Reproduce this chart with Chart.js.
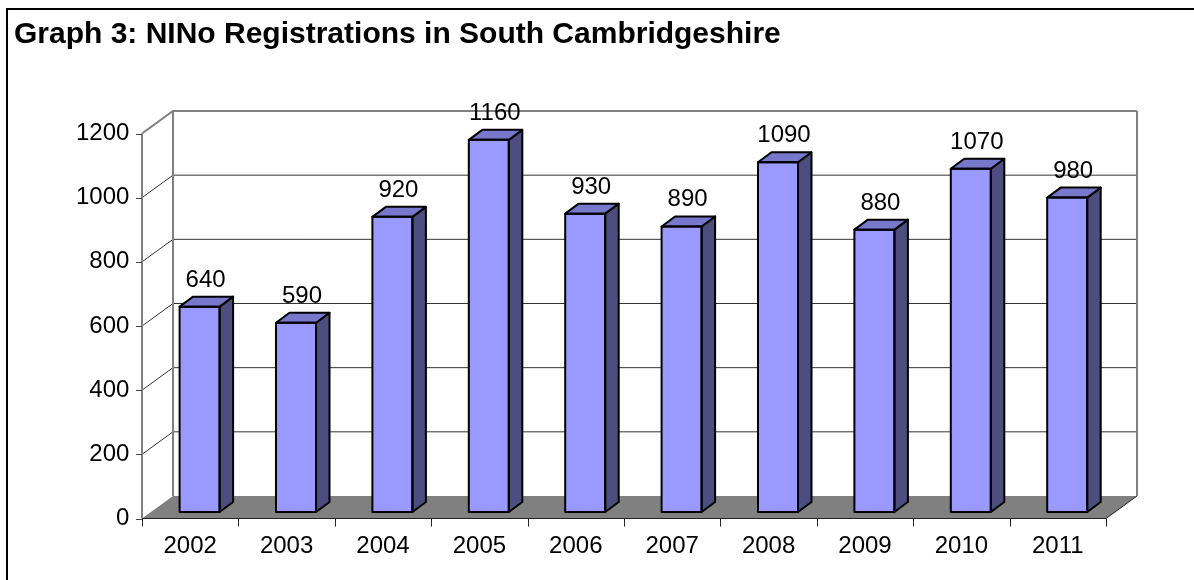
<!DOCTYPE html>
<html>
<head>
<meta charset="utf-8">
<script src="https://cdn.jsdelivr.net/npm/chart.js@4"></script>
<style>
  html, body { margin: 0; padding: 0; background: #fff; overflow: hidden; }
  #wrap { position: relative; width: 1194px; height: 580px; }
  #frame { position: absolute; left: 6px; top: 8px; width: 1300px; height: 700px; border: 2px solid #000; box-sizing: border-box; }
  canvas { position: absolute; left: 0; top: 0; }
</style>
</head>
<body>
<div id="wrap">
  <div id="frame"></div>
  <canvas id="chart" width="1194" height="580"></canvas>
</div>
<script>
// Datos del gráfico
const years = ['2002', '2003', '2004', '2005', '2006', '2007', '2008', '2009', '2010', '2011'];
const registrations = [640, 590, 920, 1160, 930, 890, 1090, 880, 1070, 980];
const yTicks = [0, 200, 400, 600, 800, 1000, 1200];

// Profundidad del efecto 3D (plano de barras -> frente / fondo)
const FRONT = { dx: -9.4, dy: 6.5 };
const BACK = { dx: 21.6, dy: -16 };
const BAR_DEPTH = { dx: 13.5, dy: -10 };

const FONT = 'Arial, "Liberation Sans", sans-serif';
const LABEL_SIZE = 24;

// Plugin para paredes, suelo y caras laterales de las barras
const box3d = {
    id: 'box3d',
    beforeDatasetsDraw(chart) {
        const { ctx, chartArea, scales } = chart;
        const y = scales.y;
        const fl = chartArea.left + FRONT.dx, fr = chartArea.right + FRONT.dx;
        const bl = chartArea.left + BACK.dx, br = chartArea.right + BACK.dx;
        const y0 = y.getPixelForValue(0);
        const yTop = y.getPixelForValue(yTicks[yTicks.length - 1]);

        ctx.save();
        // Suelo gris
        ctx.fillStyle = '#808080';
        ctx.beginPath();
        ctx.moveTo(fl, y0 + FRONT.dy);
        ctx.lineTo(fr, y0 + FRONT.dy);
        ctx.lineTo(br, y0 + BACK.dy);
        ctx.lineTo(bl, y0 + BACK.dy);
        ctx.closePath();
        ctx.fill();
        ctx.strokeStyle = '#222';
        ctx.lineWidth = 1;
        ctx.beginPath();
        ctx.moveTo(fl, y0 + FRONT.dy);
        ctx.lineTo(fr, y0 + FRONT.dy);
        ctx.lineTo(br, y0 + BACK.dy);
        ctx.stroke();

        // Líneas de cuadrícula (pared trasera y lateral)
        yTicks.forEach(v => {
            if (v === 0) return;
            const p = y.getPixelForValue(v);
            const last = v === yTicks[yTicks.length - 1];
            ctx.strokeStyle = last ? '#808080' : '#333';
            ctx.lineWidth = last ? 2 : 1;
            ctx.beginPath();
            ctx.moveTo(fl, p + FRONT.dy);
            ctx.lineTo(bl, p + BACK.dy);
            ctx.lineTo(br, p + BACK.dy);
            ctx.stroke();
        });

        // Bordes de la pared trasera
        ctx.strokeStyle = '#808080';
        ctx.lineWidth = 2;
        ctx.beginPath();
        ctx.moveTo(bl, y0 + BACK.dy);
        ctx.lineTo(bl, yTop + BACK.dy);
        ctx.moveTo(br, yTop + BACK.dy);
        ctx.lineTo(br, y0 + BACK.dy);
        ctx.stroke();

        // Eje vertical frontal
        ctx.beginPath();
        ctx.moveTo(fl, y0 + FRONT.dy);
        ctx.lineTo(fl, yTop + FRONT.dy);
        ctx.stroke();
        ctx.lineWidth = 1;
        ctx.strokeStyle = '#444';
        yTicks.forEach(v => {
            const p = Math.round(y.getPixelForValue(v) + FRONT.dy) + 0.5;
            ctx.beginPath();
            ctx.moveTo(fl - 6, p);
            ctx.lineTo(fl, p);
            ctx.stroke();
        });

        // Marcas del eje horizontal
        const step = (chartArea.right - chartArea.left) / years.length;
        ctx.strokeStyle = '#222';
        for (let i = 0; i <= years.length; i++) {
            const x = Math.round(fl + i * step) + 0.5;
            ctx.beginPath();
            ctx.moveTo(x, y0 + FRONT.dy);
            ctx.lineTo(x, y0 + FRONT.dy + 8);
            ctx.stroke();
        }
        ctx.restore();
    },
    afterDatasetsDraw(chart) {
        const { ctx } = chart;
        const meta = chart.getDatasetMeta(0);
        ctx.save();
        ctx.lineWidth = 2;
        ctx.lineJoin = 'round';
        ctx.strokeStyle = '#000';
        meta.data.forEach((bar, i) => {
            const l = bar.x - bar.width / 2, r = bar.x + bar.width / 2;
            const t = bar.y, b = bar.base;
            // Cara lateral
            ctx.fillStyle = '#4d4d80';
            ctx.beginPath();
            ctx.moveTo(r, b);
            ctx.lineTo(r, t);
            ctx.lineTo(r + BAR_DEPTH.dx, t + BAR_DEPTH.dy);
            ctx.lineTo(r + BAR_DEPTH.dx, b + BAR_DEPTH.dy);
            ctx.closePath();
            ctx.fill();
            ctx.stroke();
            // Cara superior
            ctx.fillStyle = '#7777cc';
            ctx.beginPath();
            ctx.moveTo(l, t);
            ctx.lineTo(r, t);
            ctx.lineTo(r + BAR_DEPTH.dx, t + BAR_DEPTH.dy);
            ctx.lineTo(l + BAR_DEPTH.dx, t + BAR_DEPTH.dy);
            ctx.closePath();
            ctx.fill();
            ctx.stroke();
            // Cara frontal (contorno)
            ctx.strokeRect(l, t, r - l, b - t);

            // Etiqueta de valor
            ctx.fillStyle = '#000';
            ctx.font = LABEL_SIZE + 'px ' + FONT;
            ctx.textAlign = 'center';
            ctx.textBaseline = 'alphabetic';
            ctx.fillText(String(registrations[i]), bar.x + 6, t - 20);
        });
        ctx.restore();
    }
};

const ctx = document.getElementById('chart').getContext('2d');
new Chart(ctx, {
    type: 'bar',
    data: {
        labels: years,
        datasets: [{
            data: registrations,
            backgroundColor: '#9999ff',
            borderWidth: 0,
            barPercentage: 0.415,
            categoryPercentage: 1
        }]
    },
    options: {
        responsive: false,
        animation: false,
        layout: { padding: { left: 14, right: 78.6, top: 0, bottom: 0 } },
        plugins: {
            legend: { display: false },
            tooltip: { enabled: false },
            title: {
                display: true,
                text: 'Graph 3: NINo Registrations in South Cambridgeshire',
                align: 'start',
                color: '#000',
                font: { family: FONT, size: 30, weight: 'bold', lineHeight: 1.2 },
                padding: { top: 17, bottom: 74 }
            }
        },
        scales: {
            x: {
                grid: { display: false, drawTicks: false },
                border: { display: false },
                ticks: {
                    color: '#000',
                    font: { family: FONT, size: LABEL_SIZE },
                    padding: 20,
                    labelOffset: FRONT.dx,
                    maxRotation: 0
                },
                afterFit(scale) { scale.height = 68; }
            },
            y: {
                min: 0,
                max: 1200,
                grid: { display: false, drawTicks: false },
                border: { display: false },
                ticks: {
                    stepSize: 200,
                    color: '#000',
                    font: { family: FONT, size: LABEL_SIZE },
                    padding: 22,
                    labelOffset: FRONT.dy,
                    callback: v => String(v)
                },
                afterFit(scale) { scale.width = 137.4; }
            }
        }
    },
    plugins: [box3d]
});
</script>
</body>
</html>
